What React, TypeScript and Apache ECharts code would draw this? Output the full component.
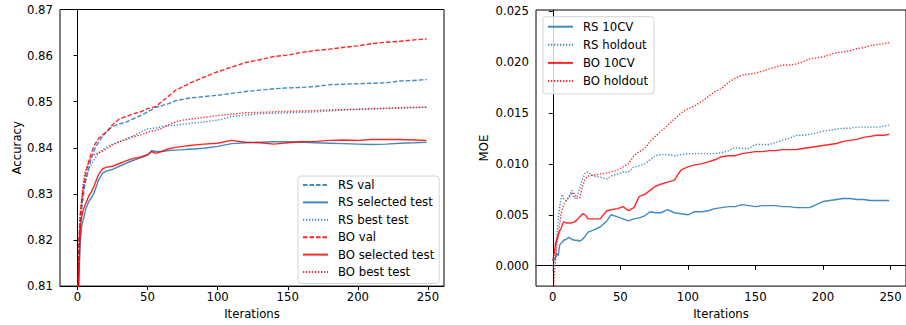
import React, { useEffect, useRef } from "react";
import * as echarts from "echarts";

// ---------- Left panel: Accuracy ----------
const ITER_L = [0,1,2,3,4,5,6,8,10,12,15,18,21,25,30,35,40,45,50,53,56,60,65,70,75,80,90,100,110,120,130,140,150,160,170,180,190,200,210,220,230,240,249];

const RS_VAL = [0.800,0.818,0.8235,0.8270,0.829,0.8315,0.833,0.8355,0.8378,0.8395,0.8412,0.8425,0.8436,0.8446,0.8452,0.8456,0.8463,0.8470,0.8478,0.8483,0.8488,0.8491,0.8496,0.8502,0.8505,0.8508,0.8511,0.8514,0.8518,0.8522,0.8525,0.8528,0.8530,0.8531,0.8533,0.8537,0.8538,0.8539,0.8540,0.8541,0.8545,0.8546,0.8548];
const RS_SEL = [0.800,0.8115,0.8195,0.8230,0.8242,0.8255,0.8268,0.8283,0.8292,0.8303,0.8330,0.8345,0.8350,0.8353,0.8360,0.8367,0.8373,0.8378,0.8384,0.8394,0.8392,0.8392,0.8394,0.8395,0.8396,0.8397,0.8399,0.8403,0.8409,0.8411,0.8412,0.8413,0.8413,0.8412,0.8411,0.8410,0.8409,0.8408,0.8407,0.8408,0.8410,0.8411,0.8412];
const RS_BEST = [0.800,0.816,0.8235,0.827,0.830,0.8321,0.8333,0.8352,0.8364,0.8375,0.8388,0.8396,0.8402,0.8408,0.8413,0.8420,0.8426,0.8434,0.8441,0.8442,0.8443,0.8446,0.8448,0.8449,0.8451,0.8453,0.8456,0.8460,0.8468,0.8471,0.8474,0.8475,0.8476,0.8477,0.8478,0.8480,0.8482,0.8483,0.8484,0.8485,0.8486,0.8487,0.8488];
const BO_VAL = [0.800,0.820,0.8255,0.8285,0.831,0.833,0.8345,0.837,0.839,0.8405,0.842,0.8428,0.8435,0.845,0.8463,0.8468,0.8474,0.8478,0.8485,0.8487,0.849,0.8500,0.8512,0.8525,0.8532,0.8540,0.8553,0.8565,0.8575,0.8585,0.8591,0.8598,0.8601,0.8607,0.8611,0.8614,0.8618,0.8621,0.8626,0.8629,0.8631,0.8634,0.8636];
const BO_SEL = [0.800,0.8128,0.8225,0.8250,0.8264,0.8272,0.8280,0.8295,0.8305,0.8318,0.8342,0.8355,0.8358,0.8360,0.8366,0.8372,0.8377,0.8380,0.8385,0.8392,0.8388,0.8392,0.8398,0.8401,0.8403,0.8405,0.8408,0.8410,0.8416,0.8412,0.8411,0.8408,0.8411,0.8413,0.8414,0.8416,0.8417,0.8416,0.8418,0.8418,0.8418,0.8417,0.8416];
const BO_BEST = [0.800,0.8175,0.8257,0.829,0.832,0.8342,0.8352,0.8368,0.8381,0.8385,0.8389,0.8393,0.8398,0.8406,0.8413,0.8418,0.8424,0.8428,0.8434,0.8436,0.8438,0.8442,0.8450,0.8456,0.8460,0.8462,0.8466,0.8470,0.8473,0.8476,0.8477,0.8478,0.8479,0.8480,0.8481,0.8482,0.8483,0.8484,0.8485,0.8486,0.8487,0.8488,0.8488];

const ACC_TICKS = [0.81,0.82,0.83,0.84,0.85,0.86,0.87];

// ---------- Right panel: MOE ----------
const ITER_R = [0,1,2,3,4,5,6,7,8,10,12,14,16,18,20,22,24,26,30,35,40,43,48,52,56,60,64,68,72,76,80,85,90,95,100,105,110,115,120,125,130,135,140,145,150,155,160,165,170,175,180,185,190,195,200,205,210,215,220,225,230,235,240,245,249];

const RS_10CV = [0.0005,0.0006,0.0008,0.0012,0.0010,0.0020,0.0022,0.0023,0.0025,0.0026,0.0028,0.0026,0.0025,0.0025,0.0024,0.0026,0.0029,0.0033,0.0035,0.0038,0.0044,0.0050,0.0048,0.0046,0.0044,0.0046,0.0047,0.0049,0.0053,0.0052,0.0052,0.0055,0.0052,0.0051,0.0050,0.0053,0.0053,0.0054,0.0056,0.0057,0.0058,0.0058,0.0060,0.0059,0.0058,0.0059,0.0059,0.0059,0.0058,0.0058,0.0057,0.0057,0.0057,0.0060,0.0063,0.0064,0.0065,0.0066,0.0066,0.0065,0.0065,0.0064,0.0064,0.0064,0.0064];
const RS_HOLD = [-0.0005,0.0005,0.0011,0.0030,0.0045,0.0057,0.0065,0.0070,0.0066,0.0064,0.0068,0.0074,0.0066,0.0068,0.0076,0.0085,0.0091,0.0092,0.0088,0.0087,0.0085,0.0088,0.0090,0.0092,0.0092,0.0097,0.0098,0.0100,0.0104,0.0108,0.0109,0.0109,0.0108,0.0109,0.0110,0.0110,0.0110,0.0110,0.0110,0.0111,0.0113,0.0116,0.0115,0.0115,0.0119,0.0119,0.0119,0.0121,0.0123,0.0125,0.0128,0.0128,0.0129,0.0130,0.0132,0.0133,0.0134,0.0135,0.0135,0.0136,0.0136,0.0136,0.0136,0.0137,0.0138];
const BO_10CV = [0.0005,0.0012,0.0022,0.0026,0.0030,0.0034,0.0036,0.0040,0.0043,0.0042,0.0042,0.0042,0.0043,0.0045,0.0048,0.0051,0.0050,0.0046,0.0046,0.0046,0.0054,0.0055,0.0056,0.0058,0.0054,0.0057,0.0068,0.0070,0.0074,0.0078,0.0080,0.0082,0.0084,0.0094,0.0097,0.0099,0.0100,0.0102,0.0104,0.0107,0.0108,0.0108,0.0110,0.0111,0.0112,0.0112,0.0113,0.0113,0.0114,0.0114,0.0114,0.0115,0.0116,0.0117,0.0118,0.0119,0.0120,0.0122,0.0123,0.0124,0.0126,0.0127,0.0128,0.0128,0.0129];
const BO_HOLD = [-0.0033,-0.0012,0.0005,0.0020,0.0030,0.0040,0.0050,0.0055,0.0060,0.0064,0.0067,0.0071,0.0071,0.0066,0.0067,0.0078,0.0085,0.0088,0.0089,0.0090,0.0091,0.0092,0.0094,0.0097,0.0100,0.0108,0.0112,0.0115,0.0122,0.0127,0.0132,0.0138,0.0144,0.0150,0.0154,0.0157,0.0161,0.0166,0.0171,0.0174,0.0180,0.0184,0.0187,0.0188,0.0189,0.0191,0.0193,0.0195,0.0197,0.0197,0.0198,0.0200,0.0203,0.0204,0.0205,0.0207,0.0209,0.0210,0.0211,0.0213,0.0214,0.0216,0.0217,0.0218,0.0219];

const MOE_TICKS = [0, 0.005, 0.01, 0.015, 0.02, 0.025];
const ITER_TICKS = [0, 50, 100, 150, 200, 250];

const BLUE = "#1f77b4";
const RED = "#ff0000";
const FONT = "DejaVu Sans";
const FS = 11.7;
const DASH = [4.5, 2];
const DOT = [1.3, 1.7];

function pairs(xs: number[], ys: number[]) {
  return xs.map((x, i) => [x, ys[i]]);
}

function mkSeries(name: string, xs: number[], ys: number[], color: string, type: any, axis: number) {
  return {
    name,
    type: "line",
    xAxisIndex: axis,
    yAxisIndex: axis,
    data: pairs(xs, ys),
    symbol: "none",
    showSymbol: false,
    clip: true,
    smooth: false,
    itemStyle: { color },
    lineStyle: { color, width: 1.4, type, opacity: 0.85 },
    emphasis: { disabled: true },
  };
}

function xAxisCfg(grid: number) {
  return {
    type: "value",
    gridIndex: grid,
    min: -12.45,
    max: 261.45,
    name: "Iterations",
    nameLocation: "middle",
    nameGap: 18,
    nameTextStyle: { fontFamily: FONT, fontSize: FS, color: "#000" },
    axisLine: { show: true, lineStyle: { color: "#000", width: 1 } },
    axisTick: { show: true, length: 4, inside: false, customValues: ITER_TICKS, lineStyle: { color: "#000" } },
    axisLabel: { customValues: ITER_TICKS, margin: 5, fontFamily: FONT, fontSize: FS, color: "#000" },
    splitLine: { show: false },
  };
}

export default function App() {
  const ref = useRef<HTMLDivElement>(null);
  useEffect(() => {
    if (!ref.current) return;
    const chart = echarts.init(ref.current, null, { renderer: "svg" });
    const legendCommon = {
      orient: "vertical",
      itemWidth: 25,
      itemHeight: 12,
      backgroundColor: "rgba(255,255,255,0.8)",
      borderColor: "#d4d4d4",
      borderWidth: 1,
      borderRadius: 3,
      itemStyle: { opacity: 0 },
      textStyle: { fontFamily: FONT, fontSize: FS, color: "#000", padding: [0, 0, 0, 5] },
      selectedMode: false,
    };
    chart.setOption({
      animation: false,
      grid: [
        { left: 60, top: 9.5, width: 384, height: 280.5, show: true, borderColor: "#000", borderWidth: 1, containLabel: false },
        { left: 536, top: 10, right: -2, bottom: 36.3, show: true, borderColor: "#000", borderWidth: 1, containLabel: false },
      ],
      xAxis: [xAxisCfg(0), xAxisCfg(1)],
      yAxis: [
        {
          type: "value",
          gridIndex: 0,
          min: 0.81,
          max: 0.87,
          interval: 0.01,
          name: "Accuracy",
          nameLocation: "middle",
          nameGap: 36,
          nameTextStyle: { fontFamily: FONT, fontSize: FS, color: "#000" },
          axisLine: { show: true, lineStyle: { color: "#000", width: 1 } },
          axisTick: { show: true, length: 4, customValues: ACC_TICKS, lineStyle: { color: "#000" } },
          axisLabel: { customValues: ACC_TICKS, margin: 7, fontFamily: FONT, fontSize: FS, color: "#000", formatter: (v: number) => v.toFixed(2) },
          splitLine: { show: false },
        },
        {
          type: "value",
          gridIndex: 1,
          min: -0.002,
          max: 0.0251,
          name: "MOE",
          nameLocation: "middle",
          nameGap: 46,
          nameTextStyle: { fontFamily: FONT, fontSize: FS, color: "#000" },
          axisLine: { show: true, lineStyle: { color: "#000", width: 1 } },
          axisTick: { show: true, length: 4, customValues: MOE_TICKS, lineStyle: { color: "#000" } },
          axisLabel: { customValues: MOE_TICKS, margin: 7, fontFamily: FONT, fontSize: FS, color: "#000", formatter: (v: number) => v.toFixed(3) },
          splitLine: { show: false },
        },
      ],
      legend: [
        {
          ...legendCommon,
          left: 298,
          top: 176,
          itemGap: 5.4,
          padding: [3, 5, 5.4, 4],
          data: ["RS val", "RS selected test", "RS best test", "BO val", "BO selected test", "BO best test"],
        },
        {
          ...legendCommon,
          left: 543,
          top: 16.7,
          itemGap: 6.1,
          padding: [4, 6, 6.9, 4],
          data: ["RS 10CV", "RS holdout", "BO 10CV", "BO holdout"],
        },
      ],
      series: [
        mkSeries("RS val", ITER_L, RS_VAL, BLUE, DASH, 0),
        mkSeries("RS selected test", ITER_L, RS_SEL, BLUE, "solid", 0),
        mkSeries("RS best test", ITER_L, RS_BEST, BLUE, DOT, 0),
        mkSeries("BO val", ITER_L, BO_VAL, RED, DASH, 0),
        mkSeries("BO selected test", ITER_L, BO_SEL, RED, "solid", 0),
        mkSeries("BO best test", ITER_L, BO_BEST, RED, DOT, 0),
        mkSeries("RS 10CV", ITER_R, RS_10CV, BLUE, "solid", 1),
        mkSeries("RS holdout", ITER_R, RS_HOLD, BLUE, DOT, 1),
        mkSeries("BO 10CV", ITER_R, BO_10CV, RED, "solid", 1),
        mkSeries("BO holdout", ITER_R, BO_HOLD, RED, DOT, 1),
      ],
    });
    return () => chart.dispose();
  }, []);
  return (
    <div
      ref={ref}
      style={{ position: "absolute", left: 0, top: 0, width: 906, height: 325, background: "#fff" }}
    />
  );
}
